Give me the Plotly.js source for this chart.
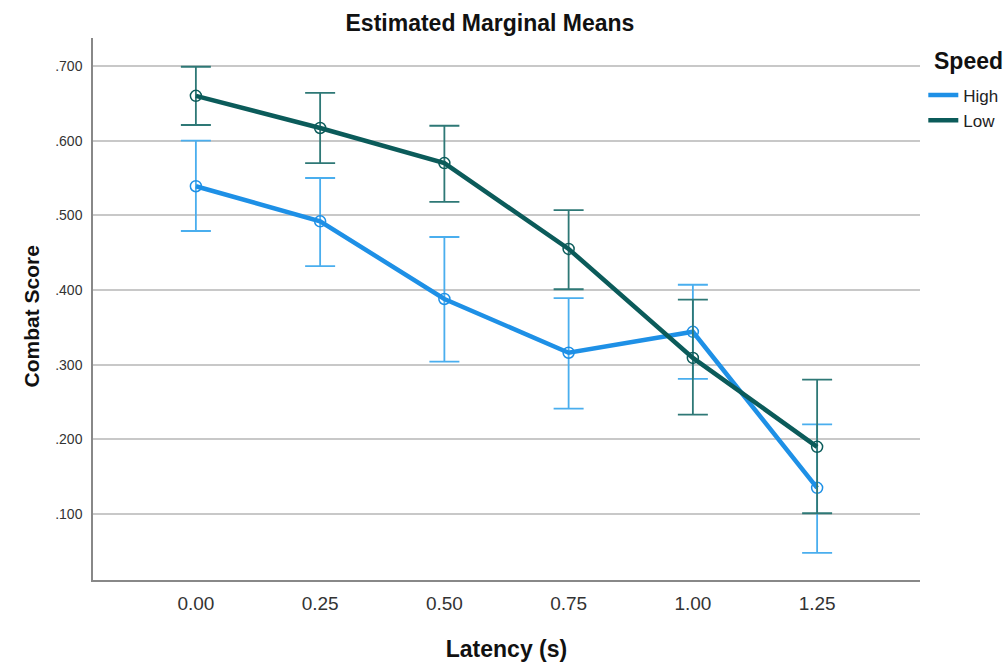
<!DOCTYPE html>
<html>
<head>
<meta charset="utf-8">
<script src="https://cdn.plot.ly/plotly-3.0.1.min.js"></script>
<style>html,body{margin:0;padding:0;background:#fff;}#chart{width:1007px;height:662px;}</style>
</head>
<body>
<div id="chart"></div>
<script>
const latency = [0.00, 0.25, 0.50, 0.75, 1.00, 1.25];
const tickLabels = ["0.00", "0.25", "0.50", "0.75", "1.00", "1.25"];
const seriesNames = ["High", "Low"];

const highMean  = [0.539, 0.492, 0.388, 0.316, 0.344, 0.135];
const highUpper = [0.600, 0.550, 0.471, 0.389, 0.407, 0.220];
const highLower = [0.479, 0.432, 0.304, 0.241, 0.281, 0.048];

const lowMean  = [0.660, 0.617, 0.570, 0.455, 0.309, 0.190];
const lowUpper = [0.699, 0.664, 0.620, 0.507, 0.387, 0.280];
const lowLower = [0.621, 0.570, 0.518, 0.401, 0.233, 0.101];

const yTicks = [0.1, 0.2, 0.3, 0.4, 0.5, 0.6, 0.7];
const yTickLabels = [".100", ".200", ".300", ".400", ".500", ".600", ".700"];

const colHigh = "#1e90e6", colHighErr = "#4aaeee";
const colLow = "#0b5b5a", colLowErr = "#2e7876";

function mk(name, mean, up, lo, col, errCol) {
  return {
    type: "scatter", mode: "lines+markers", name: name, showlegend: false,
    x: latency, y: mean,
    line: {color: col, width: 4.5},
    marker: {symbol: "circle-open", size: 11, color: col, line: {width: 1.5, color: col}},
    error_y: {type: "data", symmetric: false,
      array: up.map((u, i) => u - mean[i]),
      arrayminus: lo.map((l, i) => mean[i] - l),
      color: errCol, thickness: 1.8, width: 15}
  };
}
function leg(name, col) {
  return {type: "scatter", mode: "lines", name: name, x: [null], y: [null],
          line: {color: col, width: 4.5}, hoverinfo: "skip"};
}

const data = [
  mk(seriesNames[0], highMean, highUpper, highLower, colHigh, colHighErr),
  mk(seriesNames[1], lowMean, lowUpper, lowLower, colLow, colLowErr),
  leg(seriesNames[0], colHigh),
  leg(seriesNames[1], colLow)
];

const font = "Liberation Sans, Arial, sans-serif";
const layout = {
  width: 1007, height: 662,
  margin: {l: 93, r: 87, t: 38, b: 82, autoexpand: false},
  paper_bgcolor: "#fff", plot_bgcolor: "#fff",
  font: {family: font, color: "#222"},
  title: {text: "<b>Estimated Marginal Means</b>", font: {size: 23, color: "#111"},
          x: 0.48, xref: "paper", y: 0.965, yanchor: "middle"},
  xaxis: {range: [-0.207, 1.457], tickvals: latency, ticktext: tickLabels,
          showgrid: false, zeroline: false, showline: true, linecolor: "#888", linewidth: 1.5,
          ticks: "", tickfont: {size: 19, color: "#333"}, ticklabelstandoff: 5,
          title: {text: "<b>Latency (s)</b>", font: {size: 23, color: "#111"}, standoff: 29}},
  yaxis: {range: [0.0116, 0.7375], tickvals: yTicks, ticktext: yTickLabels,
          showgrid: true, gridcolor: "#c8c8c8", gridwidth: 1.5, zeroline: false,
          showline: true, linecolor: "#888", linewidth: 1.5,
          ticks: "", tickfont: {size: 14, color: "#333"}, ticklabelstandoff: 6},
  annotations: [
    {text: "<b>Combat Score</b>", xref: "paper", yref: "paper",
     x: -0.074, y: 0.486, xanchor: "center", yanchor: "middle", textangle: -90,
     showarrow: false, font: {size: 21, color: "#111"}},
    {text: "<b>Speed</b>", xref: "paper", yref: "paper",
     x: 1.0145, y: 0.958, xanchor: "left", yanchor: "middle",
     showarrow: false, font: {size: 23, color: "#111"}}
  ],
  legend: {x: 1.004, xanchor: "left", y: 0.927, yanchor: "top",
           font: {size: 17, color: "#222"}, itemwidth: 30, tracegroupgap: 0},
  showlegend: true
};

Plotly.newPlot("chart", data, layout, {displayModeBar: false});
</script>
</body>
</html>
